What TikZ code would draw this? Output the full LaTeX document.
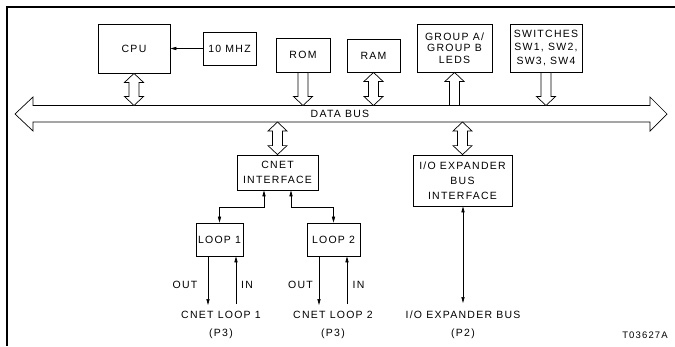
\documentclass[tikz,border=0pt]{standalone}
\usepackage{fontspec}
\setmainfont{Liberation Sans}[LetterSpace=12]
\usetikzlibrary{arrows.meta, calc}

\tikzset{
  box/.style={draw, line width=0.8pt, inner sep=0pt, align=center,
    font=\fontsize{10.5}{13}\selectfont},
  fat/.style={draw, line width=0.7pt, fill=white, line join=miter},
  link/.style={line width=0.7pt, >={Triangle[length=6pt,width=3.2pt]}},
  lbl/.style={inner sep=0pt, align=center, font=\fontsize{10.5}{17.5}\selectfont}
}

% hollow bus arrows, #1 is the upper end and #2 the lower end
\newcommand{\bothways}[2]{%
  \draw[fat] let \p1=(#1), \p2=(#2) in
    (\x1,\y1) -- (\x1+9.5pt,\y1-9pt) -- (\x1+5pt,\y1-9pt) --
    (\x1+5pt,\y2+9pt) -- (\x1+9.5pt,\y2+9pt) -- (\x1,\y2) --
    (\x1-9.5pt,\y2+9pt) -- (\x1-5pt,\y2+9pt) --
    (\x1-5pt,\y1-9pt) -- (\x1-9.5pt,\y1-9pt) -- cycle;}
\newcommand{\downway}[2]{%
  \draw[fat] let \p1=(#1), \p2=(#2) in
    (\x1-5pt,\y1) -- (\x1+5pt,\y1) -- (\x1+5pt,\y2+9pt) --
    (\x1+9.5pt,\y2+9pt) -- (\x1,\y2) -- (\x1-9.5pt,\y2+9pt) --
    (\x1-5pt,\y2+9pt) -- cycle;}
\newcommand{\upway}[2]{%
  \draw[fat] let \p1=(#1), \p2=(#2) in
    (\x1,\y1) -- (\x1+9.5pt,\y1-9pt) -- (\x1+5pt,\y1-9pt) --
    (\x1+5pt,\y2) -- (\x1-5pt,\y2) -- (\x1-5pt,\y1-9pt) --
    (\x1-9.5pt,\y1-9pt) -- cycle;}

\begin{document}
\begin{tikzpicture}[x=1pt, y=-1pt]
    \useasboundingbox (0,0) rectangle (675,346);
    \draw[line width=1.3pt] (675,7) -- (7,7) -- (7,346);

    % data bus
    \draw[fat]
        (15,114)--
        (33,97)--
        (33,105.5)--
        (650,105.5)--
        (650,97)--
        (667,114)--
        (650,131)--
        (650,122)--
        (33,122)--
        (33,131)--
        cycle;
    \node[lbl] (bus) at (340,114) {DATA BUS};
    \coordinate (bustop) at (340,105.5);
    \coordinate (busbot) at (340,122);

    % blocks on the bus
    \node[box, minimum width=72pt, minimum height=49pt] (cpu) at (134,48.5) {CPU};
    \node[box, minimum width=53pt, minimum height=33pt] (clock) at (229.5,48.5) {10 MHZ};
    \node[box, minimum width=54pt, minimum height=34pt] (rom) at (303,55) {ROM};
    \node[box, minimum width=53pt, minimum height=33pt] (ram) at (373.5,55.5) {RAM};
    \node[box, minimum width=75pt, minimum height=48pt,
        font=\fontsize{10.5}{11.3}\selectfont] (leds) at (454.5,48)
        {GROUP A/\\GROUP B\\LEDS};
    \node[box, minimum width=72pt, minimum height=48pt,
        font=\fontsize{10.5}{13.3}\selectfont] (switches) at (546,48)
        {SWITCHES\\SW1, SW2,\\SW3, SW4};
    \node[box, minimum width=81pt, minimum height=35pt,
        font=\fontsize{10.5}{15}\selectfont] (cnet) at (277.5,172.5)
        {CNET\\INTERFACE};
    \node[box, minimum width=99pt, minimum height=51pt,
        font=\fontsize{10.5}{15}\selectfont] (ioexp) at (462.5,180.5)
        {I/O EXPANDER\\BUS\\INTERFACE};
    \node[box, minimum width=47pt, minimum height=33pt] (loopA) at (219.5,239.5) {LOOP 1};
    \node[box, minimum width=53pt, minimum height=33pt] (loopB) at (333.5,239.5) {LOOP 2};

    \bothways{cpu.south}{cpu.south |- bustop}
    \downway{rom.south}{rom.south |- bustop}
    \bothways{ram.south}{ram.south |- bustop}
    \upway{leds.south}{leds.south |- bustop}
    \downway{switches.south}{switches.south |- bustop}
    \bothways{cnet.north |- busbot}{cnet.north}
    \bothways{ioexp.north |- busbot}{ioexp.north}

    % signal lines
    \coordinate (outA) at (208,305);
    \coordinate (inA) at (236,304);
    \coordinate (outB) at (319,305);
    \coordinate (inB) at (347,304);
    \coordinate (ioend) at (463,303);
    \draw[link,->] (clock) -- (cpu);
    \draw[link,<->] ([xshift=-13.5pt]cnet.south) -- ++(0,17) -| (loopA.north);
    \draw[link,<->] ([xshift=13.5pt]cnet.south) -- ++(0,17) -| (loopB.north);
    \draw[link,->] (loopA.south -| outA) -- (outA);
    \draw[link,->] (inA) -- (loopA.south -| inA);
    \draw[link,->] (loopB.south -| outB) -- (outB);
    \draw[link,->] (inB) -- (loopB.south -| inB);
    \draw[link,<->] (ioexp.south -| ioend) -- (ioend);

    % text
    \node[lbl] (outAtxt) at (185,284.5) {OUT};
    \node[lbl] (inAtxt) at (247,284.5) {IN};
    \node[lbl] (outBtxt) at (300.5,284.5) {OUT};
    \node[lbl] (inBtxt) at (358.5,284.5) {IN};
    \node[lbl, anchor=base] (portA) at (221,336) {CNET LOOP 1\\(P3)};
    \node[lbl, anchor=base] (portB) at (333,336) {CNET LOOP 2\\(P3)};
    \node[lbl, anchor=base] (portIO) at (463,336) {I/O EXPANDER BUS\\(P2)};
    \node[lbl, anchor=base, font=\fontsize{9.5}{11}\selectfont] (tag) at (645,338) {T03627A};
\end{tikzpicture}
\end{document}
